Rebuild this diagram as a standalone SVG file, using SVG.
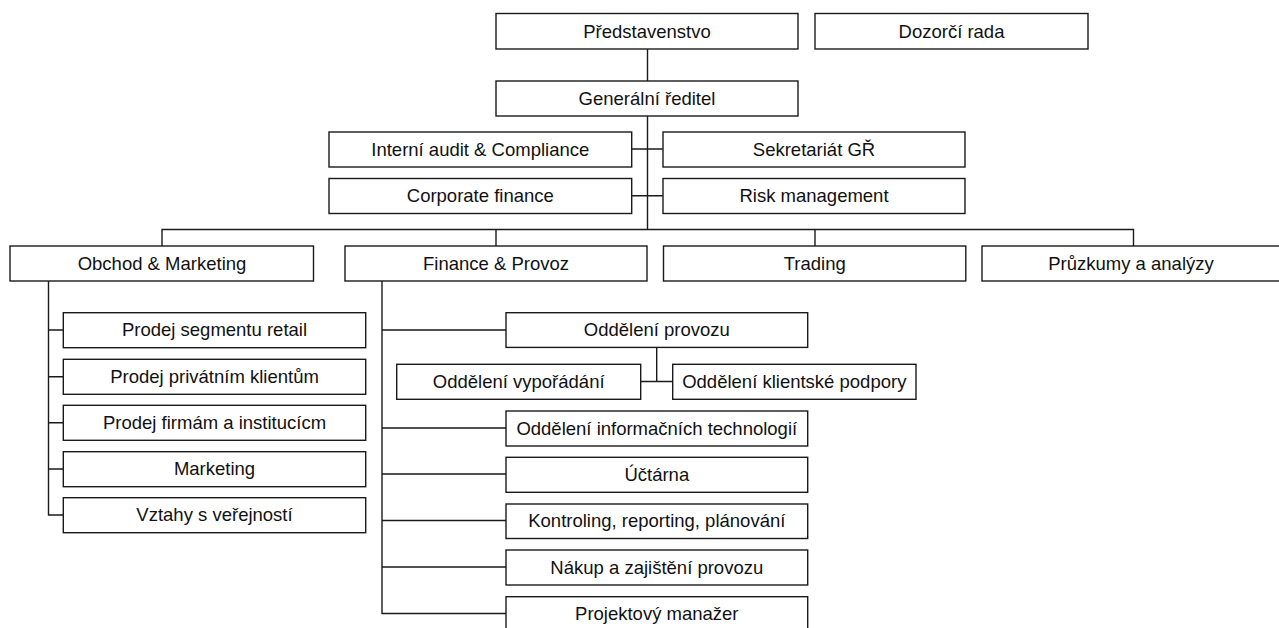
<svg xmlns="http://www.w3.org/2000/svg" width="1279" height="628" viewBox="0 0 1279 628">
<style>
rect{fill:#fff;stroke:#1a1a1a;stroke-width:1.4}
text{font-family:"Liberation Sans",Arial,sans-serif;font-size:18.5px;fill:#111;text-anchor:middle}
#connectors path{fill:none;stroke:#1a1a1a;stroke-width:1.4}
</style>
<rect x="0" y="0" width="1279" height="628" style="fill:#fff;stroke:none"/>
<g id="connectors">
<path d="M647.5 49V81M647.5 116V229.5"/>
<path d="M631.7 149H662.7M631.7 195.7H662.7"/>
<path d="M162 246V229.5H1133.5V246M496 229.5V246M815 229.5V246"/>
<path d="M48.5 281V515H63.3M48.5 330H63.3M48.5 376.7H63.3M48.5 422.7H63.3M48.5 469H63.3"/>
<path d="M382 281V613.5H506M382 330H506M382 428H506M382 474H506M382 520.5H506M382 567H506"/>
<path d="M656.7 347.3V381.5M640.7 381.5H672.7"/>
</g>
<g id="n-predstavenstvo"><rect x="496" y="13.5" width="302" height="35.5"/><text x="647" y="37.5">Představenstvo</text></g>
<g id="n-dozorci"><rect x="815" y="13.5" width="273" height="35.5"/><text x="951.5" y="37.5">Dozorčí rada</text></g>
<g id="n-gr"><rect x="496" y="81" width="302" height="35"/><text x="647" y="104.5">Generální ředitel</text></g>
<g id="n-audit"><rect x="329" y="132" width="302.7" height="35"/><text x="480.3" y="155.5">Interní audit &amp; Compliance</text></g>
<g id="n-sekretariat"><rect x="663" y="132" width="302" height="35"/><text x="814" y="155.5">Sekretariát GŘ</text></g>
<g id="n-corporate"><rect x="329" y="178.5" width="302.7" height="35"/><text x="480.3" y="202">Corporate finance</text></g>
<g id="n-risk"><rect x="663" y="178.5" width="302" height="35"/><text x="814" y="202">Risk management</text></g>
<g id="n-obchod"><rect x="10" y="246" width="303.5" height="35"/><text x="162" y="269.5">Obchod &amp; Marketing</text></g>
<g id="n-finance"><rect x="345" y="246" width="302" height="35"/><text x="496" y="269.5">Finance &amp; Provoz</text></g>
<g id="n-trading"><rect x="663.5" y="246" width="302.3" height="35"/><text x="814.7" y="269.5">Trading</text></g>
<g id="n-pruzkumy"><rect x="982" y="246" width="303" height="35"/><text x="1131" y="269.5">Průzkumy a analýzy</text></g>
<g id="n-retail"><rect x="63.3" y="312.7" width="302.4" height="35"/><text x="214.5" y="336.2">Prodej segmentu retail</text></g>
<g id="n-privat"><rect x="63.3" y="359.3" width="302.4" height="35"/><text x="214.5" y="382.8">Prodej privátním klientům</text></g>
<g id="n-firmy"><rect x="63.3" y="405.3" width="302.4" height="35"/><text x="214.5" y="428.8">Prodej firmám a institucícm</text></g>
<g id="n-marketing"><rect x="63.3" y="451.7" width="302.4" height="35"/><text x="214.5" y="475.2">Marketing</text></g>
<g id="n-vztahy"><rect x="63.3" y="497.7" width="302.4" height="35"/><text x="214.5" y="521.2">Vztahy s veřejností</text></g>
<g id="n-provoz"><rect x="506" y="312.7" width="301.7" height="34.7"/><text x="656.8" y="336">Oddělení provozu</text></g>
<g id="n-vyporadani"><rect x="396.7" y="364.3" width="244" height="35"/><text x="518.7" y="387.8">Oddělení vypořádání</text></g>
<g id="n-klient"><rect x="672.7" y="364.3" width="243.3" height="35"/><text x="794.3" y="387.8">Oddělení klientské podpory</text></g>
<g id="n-it"><rect x="506" y="411" width="301.7" height="35"/><text x="656.8" y="434.5">Oddělení informačních technologií</text></g>
<g id="n-uctarna"><rect x="506" y="457.3" width="301.7" height="35"/><text x="656.8" y="480.8">Účtárna</text></g>
<g id="n-kontroling"><rect x="506" y="504" width="301.7" height="34.5"/><text x="656.8" y="527.3">Kontroling, reporting, plánování</text></g>
<g id="n-nakup"><rect x="506" y="550" width="301.7" height="35"/><text x="656.8" y="573.5">Nákup a zajištění provozu</text></g>
<g id="n-projekt"><rect x="506" y="596.7" width="301.7" height="35"/><text x="656.8" y="620.2">Projektový manažer</text></g>
</svg>
